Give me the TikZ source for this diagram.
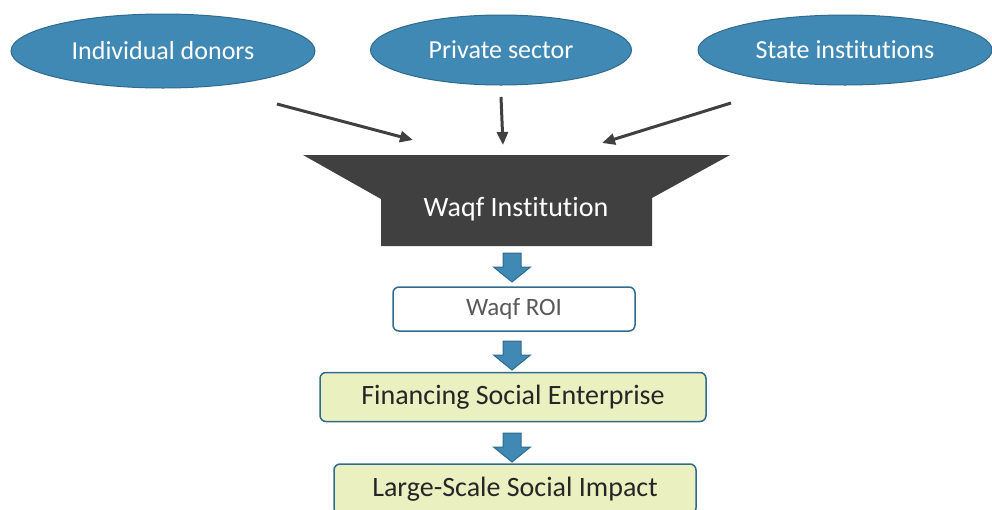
\documentclass[tikz,border=0pt]{standalone}
\usepackage{fontspec}
\setmainfont{Carlito}[Ligatures={NoCommon}]
\usetikzlibrary{arrows.meta,shapes.geometric,positioning,calc}
\definecolor{waqfblue}{HTML}{4189B5}
\definecolor{waqfedge}{HTML}{2E6B8E}
\definecolor{waqfgray}{HTML}{404040}
\definecolor{waqfgreen}{HTML}{EAF0BF}
\newcommand{\blockarrow}[1]{%
  \fill[waqfblue,draw=waqfedge,line width=1pt]
    ($(#1)+(-9,0)$) -- ($(#1)+(9,0)$) -- ($(#1)+(9,14)$) -- ($(#1)+(18.5,14)$)
    -- ($(#1)+(0,29)$) -- ($(#1)+(-18.5,14)$) -- ($(#1)+(-9,14)$) -- cycle;}

\begin{document}
\begin{tikzpicture}[x=1pt,y=-1pt]
    \tikzset{source/.style = {ellipse, draw=waqfedge, fill=waqfblue,
        line width=1pt, inner sep=0pt, text=white, font=\fontsize{26}{30}\selectfont},
      flow/.style = {-{Triangle[length=13pt,width=11pt]}, draw=waqfgray, line width=3pt},
      stage/.style = {rectangle, rounded corners=6pt, draw=waqfedge, line width=1.5pt,
        fill=waqfgreen, text=black!85, font=\fontsize{28}{32}\selectfont}}
    \useasboundingbox (0,0) rectangle (992,509);
    % sources
    \node[source, minimum width=304pt, minimum height=74pt] (donors) at (163,51) {Individual donors};
    \node[source, minimum width=261pt, minimum height=70pt] (private) at (501,50) {Private sector};
    \node[source, minimum width=294pt, minimum height=70pt] (state) at (845,50) {State institutions};
    % funnel
    \fill[waqfgray] (303,155) -- (730,155) -- (652,198) -- (652,246)
      -- (381,246) -- (381,199) -- cycle;
    \node[text=white, font=\fontsize{28}{32}\selectfont] (waqf) at (516,209) {Waqf Institution};
    \coordinate (donorsOut) at (277,104);
    \coordinate (donorsIn) at (413,140);
    \coordinate (privateOut) at (501,97);
    \coordinate (privateIn) at (503,145);
    \coordinate (stateOut) at (731,103);
    \coordinate (stateIn) at (602,143);
    \draw[flow] (donorsOut) -- (donorsIn);
    \draw[flow] (privateOut) -- (privateIn);
    \draw[flow] (stateOut) -- (stateIn);
    % stages
    \node[stage, fill=white, text=black!65, font=\fontsize{25}{28}\selectfont,
      minimum width=242pt, minimum height=44pt] (roi) at (514,309) {Waqf ROI};
    \node[stage, minimum width=386pt, minimum height=49pt] (financing) at (513,397) {Financing Social Enterprise};
    \node[stage, minimum width=362pt, minimum height=50pt] (impact) at (515,489) {Large-Scale Social Impact};
    \coordinate (arrowA) at (512,253);
    \coordinate (arrowB) at (512,341);
    \coordinate (arrowC) at (512,433);
    \blockarrow{arrowA}
    \blockarrow{arrowB}
    \blockarrow{arrowC}
  \end{tikzpicture}
\end{document}
